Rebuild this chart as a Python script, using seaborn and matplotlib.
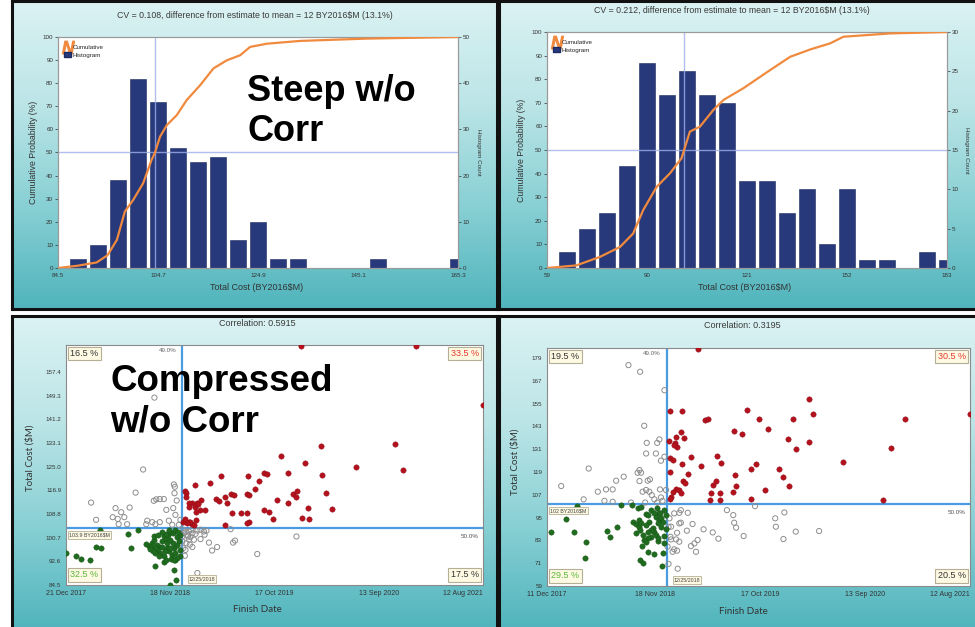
import numpy as np
import pandas as pd
import matplotlib
matplotlib.use("Agg")
import matplotlib.pyplot as plt
from matplotlib.colors import LinearSegmentedColormap
from matplotlib.lines import Line2D
from matplotlib.patches import Patch
import seaborn as sns

sns.set_style("white")
plt.rcParams["font.family"] = ["Liberation Sans", "DejaVu Sans"]

W, H = 975, 627

# ---------------- cost histograms ----------------
steep_bin_centers = [88.54, 92.58, 96.62, 100.66, 104.70, 108.74, 112.78, 116.82, 120.86, 124.90,
                     128.94, 132.98, 137.02, 141.06, 145.10, 149.14, 153.18, 157.22, 161.26, 165.30]
steep_counts = [2, 5, 19, 41, 36, 26, 23, 24, 6, 10, 2, 2, 0, 0, 0, 2, 0, 0, 0, 2]
steep_cum_cost = [84.5, 88.5, 92.3, 94.5, 96.4, 98.0, 99.7, 101.7, 103.4, 104.1, 105.1, 106.5, 108.5,
                  110.5, 113.2, 115.9, 118.6, 121.3, 123.3, 126.7, 133.4, 146.8, 165.3]
steep_cum_pct = [0, 1.0, 2.4, 5.5, 12.2, 24.4, 29.5, 36.7, 46.8, 50.0, 56.8, 61.9, 66.2,
                 72.7, 79.1, 86.4, 89.9, 92.1, 95.7, 97.1, 98.3, 99.3, 100]
steep_xticks = [84.5, 104.7, 124.9, 145.1, 165.3]
steep_count_ticks = [0, 10, 20, 30, 40, 50]
steep_median = 104.1
steep_title = "CV = 0.108, difference from estimate to mean = 12 BY2016$M (13.1%)"

wide_bin_centers = [65.2, 71.4, 77.6, 83.8, 90.0, 96.2, 102.4, 108.6, 114.8, 121.0,
                    127.2, 133.4, 139.6, 145.8, 152.0, 158.2, 164.4, 170.6, 176.8, 183.0]
wide_counts = [2, 5, 7, 13, 26, 22, 25, 22, 21, 11, 11, 7, 10, 3, 10, 1, 1, 0, 2, 1]
wide_cum_cost = [59, 68.1, 75.4, 81.6, 85.7, 88.8, 93.0, 97.1, 100.7, 101.5, 103.3, 106.4, 110.6,
                 113.7, 119.9, 128.2, 134.4, 140.6, 146.8, 150.9, 165.4, 183]
wide_cum_pct = [0, 1.1, 4.7, 8.9, 14.6, 24.5, 34.4, 40.1, 46.5, 50.0, 57.8, 59.9, 67.0,
                71.2, 76.2, 83.9, 89.5, 92.6, 95.2, 98.0, 99.4, 100]
wide_xticks = [59, 90, 121, 152, 183]
wide_count_ticks = [0, 5, 10, 15, 20, 25, 30]
wide_median = 101.5
wide_title = "CV = 0.212, difference from estimate to mean = 12 BY2016$M (13.1%)"

# ---------------- cost vs. finish date scatters ----------------
# x = days after the first date tick, y = total cost ($M)
comp_date_ticks = ["21 Dec 2017", "18 Nov 2018", "17 Oct 2019", "13 Sep 2020", "12 Aug 2021"]
comp_cost_ticks = [84.5, 92.6, 100.7, 108.8, 116.9, 125.0, 133.1, 141.2, 149.3, 157.4]
comp_cost_range = (84.5, 166.6)
comp_cost_split = 103.9
comp_date_split = "12/25/2018"
comp_corr = "0.5915"
comp_late_high = [(749, 166.3), (1116, 166.3), (1330, 146.0), (813, 132.0), (1049, 132.9), (687, 128.7),
                  (763, 126.4), (925, 124.7), (1075, 124.0), (495, 121.9), (580, 121.8), (632, 122.9),
                  (642, 122.5), (708, 122.7), (815, 122.3), (459, 119.5), (413, 118.6), (617, 120.2),
                  (603, 117.3), (378, 116.8), (384, 115.9), (525, 115.6), (536, 115.2), (576, 115.5),
                  (584, 115.3), (723, 115.5), (738, 116.8), (733, 114.5), (829, 115.9), (506, 114.5),
                  (477, 113.9), (488, 113.4), (382, 114.7), (403, 112.7), (419, 112.7), (411, 111.1),
                  (426, 110.0), (442, 110.2), (674, 113.6), (708, 112.5), (514, 112.5), (848, 110.4),
                  (773, 110.8), (529, 109.3), (557, 109.0), (578, 109.3), (632, 110.2), (648, 109.4),
                  (416, 109.5), (391, 112.7), (392, 106.0), (403, 105.4), (414, 106.8), (397, 106.2),
                  (409, 105.0), (508, 105.1), (585, 106.2), (578, 105.6), (659, 107.0), (754, 107.3),
                  (775, 107.1), (387, 105.6), (374, 106.2), (381, 107.0), (421, 112.3), (429, 113.6),
                  (393, 111.3)]
comp_early_low = [(0, 95.6), (33, 94.3), (49, 93.5), (76, 92.9), (96, 97.5), (113, 97.0), (108, 103.4),
                  (198, 102.0), (208, 97.3), (230, 103.4), (285, 91.1), (312, 92.2), (344, 89.7),
                  (351, 86.3), (331, 84.5), (349, 93.1), (365, 94.3), (256, 98.5), (264, 97.9),
                  (275, 99.0), (282, 100.0), (291, 98.3), (299, 97.5), (307, 99.4), (312, 101.1),
                  (320, 100.2), (326, 101.7), (333, 102.8), (341, 102.2), (347, 103.4), (353, 100.9),
                  (360, 99.4), (323, 97.1), (328, 96.0), (339, 94.8), (335, 93.5), (312, 94.3),
                  (301, 95.4), (291, 96.5), (280, 101.1), (272, 97.5), (285, 95.4), (296, 94.3),
                  (317, 96.0), (344, 97.1), (355, 98.3), (363, 96.5), (307, 97.5), (323, 98.8),
                  (333, 100.0), (342, 98.8), (349, 95.4), (331, 97.1), (320, 102.0), (307, 102.5),
                  (293, 101.7), (285, 97.1), (278, 96.0), (267, 96.8), (365, 101.7), (358, 102.8),
                  (328, 103.4), (355, 93.7), (344, 93.1), (320, 93.1)]
comp_early_high = [(80, 112.7), (96, 106.8), (149, 107.7), (158, 110.8), (165, 107.1), (176, 109.4),
                   (186, 107.7), (203, 111.0), (195, 105.3), (168, 105.3), (222, 116.1), (246, 124.0),
                   (256, 105.3), (259, 106.5), (275, 106.0), (280, 113.3), (288, 113.8), (299, 113.9),
                   (312, 113.9), (320, 110.2), (328, 106.5), (342, 110.8), (344, 118.9), (346, 115.9),
                   (347, 118.1), (353, 113.4), (349, 108.5), (360, 105.1), (299, 106.0), (285, 105.3),
                   (339, 105.1), (365, 106.8), (282, 148.6)]
comp_late_low = [(374, 103.4), (381, 102.8), (387, 101.7), (392, 100.0), (397, 100.9), (403, 97.5),
                 (384, 98.8), (374, 97.1), (379, 94.5), (419, 103.1), (429, 100.2), (440, 102.8),
                 (448, 103.1), (456, 99.0), (466, 96.3), (482, 97.5), (525, 103.6), (533, 99.0),
                 (539, 99.7), (610, 95.1), (735, 101.1), (419, 88.6), (371, 99.4), (408, 100.0),
                 (381, 96.5), (392, 102.8), (399, 103.4), (413, 102.0), (389, 101.1), (371, 101.1),
                 (395, 98.3), (429, 103.4), (442, 101.7), (403, 102.2), (376, 102.2)]

wide_date_ticks = ["11 Dec 2017", "18 Nov 2018", "17 Oct 2019", "13 Sep 2020", "12 Aug 2021"]
wide_cost_ticks = [59, 71, 83, 95, 107, 119, 131, 143, 155, 167, 179]
wide_cost_range = (59, 184.2)
wide_cost_split = 102.0
wide_date_split = "12/25/2018"
wide_corr = "0.3195"
wide_late_high = [(477, 183.9), (829, 157.3), (391, 151.2), (428, 151.2), (632, 151.5), (844, 149.4),
                  (500, 146.3), (509, 146.6), (672, 146.6), (779, 147.1), (1134, 146.6), (1340, 149.4),
                  (701, 141.5), (593, 140.6), (618, 139.2), (424, 139.8), (408, 137.5), (433, 137.0),
                  (385, 135.4), (405, 134.0), (411, 132.2), (403, 133.1), (763, 136.1), (829, 134.5),
                  (1089, 131.4), (788, 131.0), (456, 127.0), (537, 127.3), (391, 126.1), (400, 125.2),
                  (428, 123.1), (488, 122.1), (552, 123.5), (663, 123.1), (646, 120.3), (736, 120.3),
                  (939, 124.0), (749, 116.1), (767, 111.6), (446, 117.9), (432, 114.4), (437, 113.3),
                  (390, 119.1), (409, 110.0), (417, 109.5), (525, 112.1), (535, 114.4), (520, 107.7),
                  (547, 107.7), (516, 104.2), (549, 104.2), (589, 108.2), (596, 117.3), (600, 111.7),
                  (646, 104.6), (690, 109.5), (1065, 104.2), (393, 106.0), (390, 104.6), (398, 108.6),
                  (424, 107.7)]
wide_early_low = [(13, 87.6), (60, 94.0), (87, 87.2), (94, 101.0), (124, 82.3), (119, 73.5), (190, 88.1),
                  (201, 84.9), (221, 90.2), (235, 101.6), (269, 101.6), (272, 92.8), (282, 91.4),
                  (293, 90.2), (295, 88.4), (287, 100.2), (298, 100.7), (314, 96.8), (319, 96.3),
                  (330, 98.9), (349, 99.8), (354, 97.5), (345, 95.4), (356, 93.7), (361, 94.6),
                  (366, 92.8), (351, 91.9), (338, 87.6), (335, 89.3), (330, 84.9), (319, 84.1),
                  (308, 83.2), (314, 82.3), (301, 80.0), (319, 77.0), (340, 75.6), (353, 82.7),
                  (366, 76.5), (370, 81.4), (377, 88.8), (296, 72.7), (303, 70.9), (364, 69.5),
                  (372, 98.9), (377, 96.3), (330, 88.4), (321, 87.6), (345, 85.8), (351, 84.1),
                  (303, 85.8), (293, 93.7), (361, 90.2), (282, 86.7), (298, 91.9), (372, 85.3),
                  (359, 97.2), (340, 97.2), (324, 92.8), (314, 91.1)]
wide_early_high = [(258, 175.2), (295, 171.7), (372, 162.0), (308, 143.3), (316, 134.3), (349, 134.3),
                   (356, 136.1), (314, 128.7), (345, 128.7), (361, 124.9), (372, 127.0), (132, 120.8),
                   (293, 120.0), (45, 111.6), (116, 104.6), (161, 108.6), (187, 109.8), (208, 109.8),
                   (219, 114.4), (243, 116.5), (287, 118.6), (298, 118.6), (293, 114.2), (319, 114.4),
                   (326, 115.1), (303, 108.6), (314, 109.5), (324, 108.6), (182, 103.8), (208, 103.3),
                   (266, 102.9), (311, 102.9), (340, 104.6), (349, 102.9), (361, 105.6), (366, 103.8),
                   (377, 109.5), (358, 109.8), (332, 106.8)]
wide_late_low = [(403, 97.2), (419, 97.5), (446, 97.5), (388, 94.6), (424, 92.3), (419, 91.9), (393, 90.2),
                 (461, 91.6), (496, 88.8), (525, 87.2), (543, 83.9), (443, 88.1), (412, 87.0), (391, 84.9),
                 (409, 83.5), (419, 82.3), (393, 83.5), (412, 77.6), (403, 78.3), (456, 80.0), (467, 81.4),
                 (472, 77.0), (570, 98.9), (590, 96.3), (593, 92.3), (599, 89.7), (623, 85.3), (659, 101.0),
                 (723, 94.6), (725, 90.2), (752, 97.7), (749, 83.7), (788, 87.6), (862, 87.9), (385, 70.6),
                 (414, 68.1), (398, 77.0), (477, 83.2), (382, 79.7), (424, 98.9), (385, 90.2)]

NAVY = "#27397b"
ORANGE = "#f08a3e"
GUIDE = "#9fb0ea"
SPLIT = "#4a9be2"
RED = "#b3121d"
GREEN = "#1f6b1f"
TICK_KW = dict(labelsize=4.5, colors="#333333", length=2, width=0.5, pad=1.5)

fig = plt.figure(figsize=(W / 100, H / 100), dpi=100, facecolor="white")


def px_rect(l, t, r, b):
    return [l / W, 1 - b / H, (r - l) / W, (b - t) / H]


def ftext(x, y, s, **kw):
    kw.setdefault("ha", "center")
    kw.setdefault("va", "center")
    fig.text(x / W, 1 - y / H, s, **kw)


panel_cmap = LinearSegmentedColormap.from_list(
    "panel", ["#dbf2f3", "#bce5e7", "#88d0d4", "#50b4bc"])


def panel(l, t, r, b):
    ax = fig.add_axes(px_rect(l, t, r, b))
    ax.imshow(np.linspace(0, 1, 256).reshape(-1, 1), aspect="auto", cmap=panel_cmap,
              extent=[0, 1, 0, 1])
    ax.set_xticks([])
    ax.set_yticks([])
    for sp in ax.spines.values():
        sp.set_color("#111111")
        sp.set_linewidth(2.2)
    return ax


def style_frame(ax, color="#9a9a9a"):
    for sp in ax.spines.values():
        sp.set_color(color)
        sp.set_linewidth(0.8)


def histogram_panel(rect, centers, counts, cum_cost, cum_pct, xticks, count_ticks, median):
    ax = fig.add_axes(px_rect(*rect))
    ax.set_facecolor("white")
    sns.barplot(x=centers, y=counts, native_scale=True, width=0.8, color=NAVY, saturation=1,
                edgecolor="#1b2a60", linewidth=0.4, errorbar=None, ax=ax)
    ax.set_xlabel("")
    ax.set_ylabel("")

    # cumulative probability on a twin axis drawn above the bars
    ax2 = ax.twinx()
    ax2.axhline(50, color=GUIDE, lw=1.0, alpha=0.8, zorder=1)
    ax2.axvline(median, color=GUIDE, lw=1.0, alpha=0.8, zorder=1)
    sns.lineplot(x=cum_cost, y=cum_pct, color=ORANGE, lw=1.6, ax=ax2, zorder=3)
    ax2.set_ylim(0, 100)
    ax2.set_yticks(range(0, 101, 10))
    ax2.set_ylabel("")

    # counts on the right, probability on the left
    ax.yaxis.tick_right()
    ax2.yaxis.tick_left()
    ax.set_ylim(0, count_ticks[-1])
    ax.set_yticks(count_ticks)
    ax.tick_params(**TICK_KW)
    ax2.tick_params(**TICK_KW)
    ax.set_xlim(xticks[0], xticks[-1])
    ax.set_xticks(xticks)
    ax.set_xticklabels([f"{v:g}" for v in xticks])
    style_frame(ax)
    style_frame(ax2)
    handles = [Line2D([], [], ls="none", marker=r"$\mathit{N}$", color=ORANGE, ms=9),
               Patch(facecolor=NAVY, edgecolor="#1b2a60")]
    ax2.legend(handles, ["Cumulative", "Histogram"], loc="upper left",
               bbox_to_anchor=(0.005, 0.985), fontsize=4.5, frameon=False, handlelength=1.1,
               handletextpad=0.15, labelspacing=0.35, borderaxespad=0.3)
    return ax


def scatter_panel(rect, groups, date_ticks, cost_ticks, cost_range, cost_split, date_split):
    ax = fig.add_axes(px_rect(*rect))
    ax.set_facecolor("white")
    start = pd.to_datetime(date_ticks[0], format="%d %b %Y")
    tick_days = [(pd.to_datetime(d, format="%d %b %Y") - start).days for d in date_ticks]
    split_day = (pd.to_datetime(date_split, format="%m/%d/%Y") - start).days
    early_high, late_high, early_low, late_low = groups

    for pts in (early_high, late_low):
        d, c = zip(*pts)
        sns.scatterplot(x=list(d), y=list(c), s=14, facecolors="none", edgecolor="#8d8d8d",
                        linewidth=0.7, legend=False, ax=ax, zorder=3)
    for pts, col, edge in ((late_high, RED, "#8c0c15"), (early_low, GREEN, "#145214")):
        d, c = zip(*pts)
        sns.scatterplot(x=list(d), y=list(c), s=15, color=col, edgecolor=edge,
                        linewidth=0.3, legend=False, ax=ax, zorder=3)

    ax.axvline(split_day, color=SPLIT, lw=1.6, zorder=2)
    ax.axhline(cost_split, color=SPLIT, lw=1.6, zorder=2)
    ax.set_xlim(tick_days[0], tick_days[-1])
    ax.set_ylim(*cost_range)
    ax.set_xticks(tick_days)
    ax.set_xticklabels(date_ticks)
    ax.set_yticks(cost_ticks)
    fractional = any(not float(v).is_integer() for v in cost_ticks)
    ax.set_yticklabels([f"{v:.1f}" if fractional else f"{v:g}" for v in cost_ticks])
    ax.tick_params(**TICK_KW)
    ax.tick_params(axis="x", labelsize=5)
    labels = ax.get_xticklabels()
    labels[-1].set_horizontalalignment("right")
    style_frame(ax, "#8a8a8a")

    n = sum(len(g) for g in groups)
    box = dict(boxstyle="square,pad=0.25", fc="#fdf9e2", ec="#b5b095", lw=0.8)
    small_box = dict(boxstyle="square,pad=0.2", fc="#fdf9e2", ec="#b5b095", lw=0.6)
    corners = [(early_high, (0, 1), (3, -3), "left", "top", "#333333"),
               (late_high, (1, 1), (-3, -3), "right", "top", "#e5392e"),
               (early_low, (0, 0), (3, 4), "left", "bottom", "#5cb83c"),
               (late_low, (1, 0), (-3, 4), "right", "bottom", "#333333")]
    for g, xy, off, ha, va, col in corners:
        ax.annotate(f"{100 * len(g) / n:.1f} %", xy=xy, xycoords="axes fraction", xytext=off,
                    textcoords="offset points", ha=ha, va=va, fontsize=6.5, color=col, bbox=box)

    share_early = 100 * (len(early_high) + len(early_low)) / n
    ax.annotate(f"{share_early:.1f}%", xy=(split_day, 1), xycoords=("data", "axes fraction"),
                xytext=(-4, -2), textcoords="offset points", ha="right", va="top",
                fontsize=4.5, color="#666666")
    share_low = 100 * (len(early_low) + len(late_low)) / n
    ax.annotate(f"{share_low:.1f}%", xy=(1, cost_split), xycoords=("axes fraction", "data"),
                xytext=(-3, -4), textcoords="offset points", ha="right", va="top",
                fontsize=4.5, color="#555555")
    ax.annotate(f"{cost_split:g} BY2016$M", xy=(0, cost_split), xycoords=("axes fraction", "data"),
                xytext=(2.5, -3), textcoords="offset points", ha="left", va="top",
                fontsize=3.8, color="#444444", bbox=small_box)
    ax.annotate(date_split, xy=(split_day, 0), xycoords=("data", "axes fraction"),
                xytext=(5, 2.5), textcoords="offset points", ha="left", va="bottom",
                fontsize=3.8, color="#444444", bbox=small_box)
    return ax


# panel backgrounds
panel(12, 1, 497, 309)
panel(499, 1, 978, 309)
panel(12, 316, 497, 630)
panel(499, 316, 978, 630)

# histograms
histogram_panel((58, 37, 458, 268), steep_bin_centers, steep_counts, steep_cum_cost, steep_cum_pct,
                steep_xticks, steep_count_ticks, steep_median)
histogram_panel((547, 32, 947, 268), wide_bin_centers, wide_counts, wide_cum_cost, wide_cum_pct,
                wide_xticks, wide_count_ticks, wide_median)

ftext(255, 15, steep_title, fontsize=6.3, color="#3a3a3a")
ftext(732, 10.5, wide_title, fontsize=6.3, color="#3a3a3a")
for cx in (257, 745):
    ftext(cx, 287, "Total Cost (BY2016$M)", fontsize=6.5, color="#333333")
ftext(33, 152, "Cumulative Probability (%)", fontsize=6.3, color="#333333", rotation=90)
ftext(522, 150, "Cumulative Probability (%)", fontsize=6.3, color="#333333", rotation=90)
ftext(479, 152, "Histogram Count", fontsize=4.5, color="#333333", rotation=270)
ftext(966, 150, "Histogram Count", fontsize=4.5, color="#333333", rotation=270)

# scatters
scatter_panel((66, 345, 483, 585), (comp_early_high, comp_late_high, comp_early_low, comp_late_low),
              comp_date_ticks, comp_cost_ticks, comp_cost_range, comp_cost_split, comp_date_split)
scatter_panel((547, 348, 970, 586), (wide_early_high, wide_late_high, wide_early_low, wide_late_low),
              wide_date_ticks, wide_cost_ticks, wide_cost_range, wide_cost_split, wide_date_split)

ftext(257, 323.5, f"Correlation: {comp_corr}", fontsize=6.5, color="#3a3a3a")
ftext(742, 325.5, f"Correlation: {wide_corr}", fontsize=6.5, color="#3a3a3a")
for cx, cy in ((257, 609), (743, 611)):
    ftext(cx, cy, "Finish Date", fontsize=7, color="#333333", family=["Lato", "DejaVu Sans"])
for cx, cy in ((30, 458), (515, 462)):
    ftext(cx, cy, "Total Cost ($M)", fontsize=7, color="#333333", rotation=90,
          family=["Lato", "DejaVu Sans"])

# slide annotations
ftext(247, 74, "Steep w/o\nCorr", fontsize=26, fontweight="bold", color="black", ha="left",
      va="top", linespacing=1.2)
ftext(110, 364, "Compressed\nw/o Corr", fontsize=26.5, fontweight="bold", color="black",
      ha="left", va="top", linespacing=1.2)

fig.savefig("out.png", dpi=100, facecolor="white")
